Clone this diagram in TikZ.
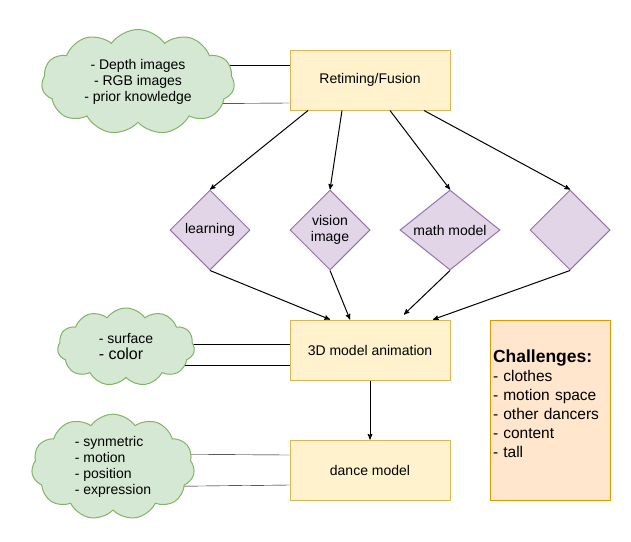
\documentclass[tikz,border=0pt]{standalone}
\usepackage{fontspec}
\setmainfont{Liberation Sans}
\usetikzlibrary{arrows,shapes.geometric,shapes.symbols,backgrounds}
\definecolor{boxfill}{HTML}{FFF2CC}
\definecolor{boxline}{HTML}{D6B656}
\definecolor{diafill}{HTML}{E1D5E7}
\definecolor{dialine}{HTML}{9673A6}
\definecolor{cloudfill}{HTML}{D5E8D4}
\definecolor{cloudline}{HTML}{82B366}
\definecolor{notefill}{HTML}{FFE6CC}
\definecolor{noteline}{HTML}{D79B00}

\begin{document}
\begin{tikzpicture}[x=1pt,y=-1pt,>=stealth',node distance=120pt,line width=1pt,
  every node/.style={font=\fontsize{14}{16}\selectfont},
  box/.style={draw=boxline,fill=boxfill,minimum width=160pt,minimum height=60pt},
  diam/.style={draw=dialine,fill=diafill,diamond,minimum width=80pt,minimum height=80pt,inner sep=0pt,align=center},
  cloudy/.style={draw=cloudline,fill=cloudfill,cloud,cloud puffs=11,cloud puff arc=110,inner sep=0pt}]
	  \useasboundingbox (0,0) rectangle (631,541);
	  \node (fusion) [box] at (370,80) {Retiming/Fusion};
	  \node (depth) [cloudy,align=center,aspect=2.2,minimum width=193pt,minimum height=105pt] at (138,82) {- Depth images\\- RGB images\\- prior knowledge};
	  \node (learn) [diam] at (210,230) {learning};
	  \node (vision) [diam] at (330,230) {vision\\image};
	  \node (math) [diam,aspect=1.25,minimum width=100pt] at (450,230) {math model};
	  \node (blank) [diam] at (570,230) {};
	  \node (anim) [box] at (370,350) {3D model animation};
	  \node (dance) [box,below of=anim] {dance model};
	  \node (look) [cloudy,align=left,aspect=1.8,minimum width=137pt,minimum height=78pt] at (126,347) {- surface\\{\fontsize{16}{18}\selectfont - color}};
	  \node (pose) [cloudy,align=left,aspect=1.8,minimum width=163pt,minimum height=95pt] at (113,467) {- synmetric\\- motion\\- position\\- expression};
	  \node (chall) [draw=noteline,fill=notefill,minimum width=120pt,minimum height=180pt,inner xsep=3pt,text width=114pt,align=left,font=\fontsize{15.5}{19}\selectfont] at (550,410) {{\fontsize{17.5}{20}\selectfont\bfseries Challenges:}\\- clothes\\- motion space\\- other dancers\\- content\\- tall\\[-7pt]\mbox{}};
	  \path[->]
	    ([xshift=-62pt]fusion.south) edge (learn.north)
	    ([xshift=-28pt]fusion.south) edge (vision.north)
	    ([xshift=20pt]fusion.south) edge (math.north)
	    ([xshift=54pt]fusion.south) edge (blank.north)
	    (learn.south) edge ([xshift=-40pt]anim.north)
	    (vision.south) edge ([xshift=-20pt]anim.north)
	    (math.south) edge ([xshift=34pt,yshift=5pt]anim.north)
	    (blank.south) edge ([xshift=63pt]anim.north)
	    (anim) edge (dance);
	  % cloud links run behind the clouds
	  \begin{scope}[on background layer]
	    \draw ([yshift=17pt]depth.center) -- ([yshift=15pt]fusion.west);
	    \draw ([yshift=-22pt]depth.center) -- ([yshift=-23pt]fusion.west);
	    \draw ([yshift=3pt]look.center) -- ([yshift=6pt]anim.west);
	    \draw ([yshift=-18pt]look.center) -- ([yshift=-15pt]anim.west);
	    \draw ([yshift=13pt]pose.center) -- ([yshift=15pt]dance.west);
	    \draw ([yshift=-20pt]pose.center) -- ([yshift=-15pt]dance.west);
	  \end{scope}
	\end{tikzpicture}
\end{document}
